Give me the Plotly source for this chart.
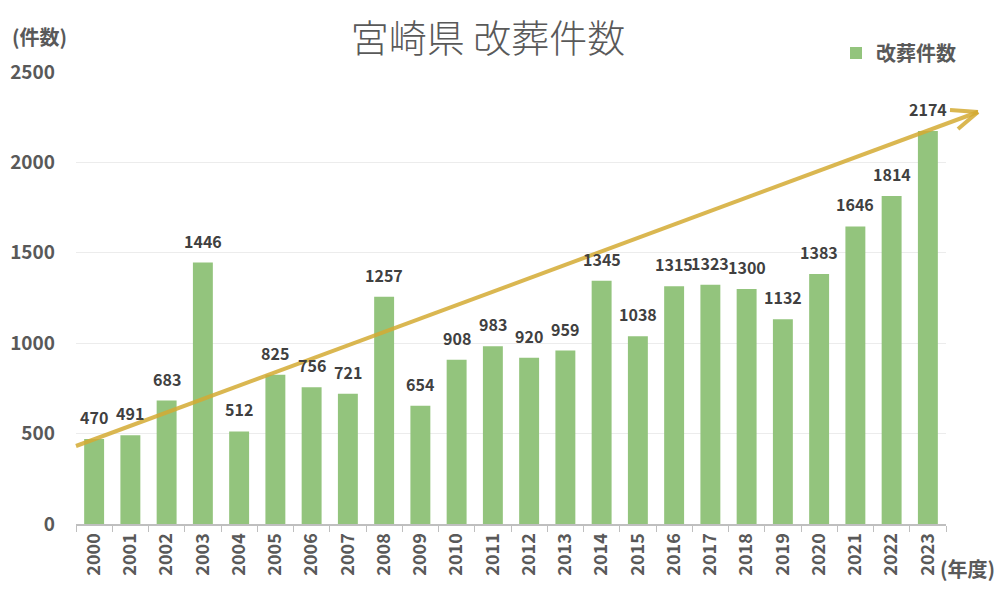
import plotly.graph_objects as go

years = [str(y) for y in range(2000, 2024)]
counts = [470, 491, 683, 1446, 512, 825, 756, 721, 1257, 654, 908, 983, 920, 959,
          1345, 1038, 1315, 1323, 1300, 1132, 1383, 1646, 1814, 2174]
y_ticks = [0, 500, 1000, 1500, 2000, 2500]

FONT = "Noto Sans CJK JP"
L, R, T, B = 76, 54, 72, 75
W, H = 1000, 599
PW, PH = W - L - R, H - T - B

def px2paper(x, y):
    return (x - L) / PW, (H - B - y) / PH

fig = go.Figure()
fig.add_trace(go.Bar(
    x=years, y=counts, name="改葬件数",
    marker=dict(color="#93c47d", line=dict(width=0)),
))

# data labels (x given as category index)
for i, c in enumerate(counts):
    fig.add_annotation(x=i, y=c, xref="x", yref="y", text=str(c), showarrow=False,
                       yanchor="bottom", yshift=8,
                       font=dict(family=FONT, size=16, color="#404040", weight="bold"))

# trend arrow (decorative)
arrow_col = "rgba(212,170,50,0.85)"
tail = px2paper(76, 446)
tip = px2paper(978, 112)
arm1 = px2paper(950, 110)
arm2 = px2paper(958, 129)
for a, b in [(tail, tip), (arm1, tip), (arm2, tip)]:
    fig.add_shape(type="line", xref="paper", yref="paper",
                  x0=a[0], y0=a[1], x1=b[0], y1=b[1],
                  line=dict(color=arrow_col, width=4))

fig.update_layout(
    width=W, height=H,
    margin=dict(l=L, r=R, t=T, b=B, autoexpand=False),
    plot_bgcolor="white", paper_bgcolor="white",
    bargap=0.45,
    showlegend=True,
    legend=dict(x=px2paper(836, 0)[0], y=px2paper(0, 53)[1], xanchor="left", yanchor="middle",
                font=dict(family=FONT, size=20, color="#595959", weight="bold"),
                itemwidth=30, bgcolor="rgba(0,0,0,0)"),
    title=dict(text="宮崎県 改葬件数", x=0.488, xanchor="center", y=0.935, yanchor="middle",
               font=dict(family=FONT, size=38, color="#595959", weight=300)),
    font=dict(family=FONT),
    xaxis=dict(type="category", categoryorder="array", categoryarray=years,
               range=[-0.5, len(years) - 0.5],
               tickangle=-90, tickson="boundaries", automargin=False,
               ticks="outside", ticklen=6, tickcolor="#bfbfbf",
               showline=True, linecolor="#bfbfbf", linewidth=2,
               tickfont=dict(family=FONT, size=18, color="#595959", weight="bold"),
               showgrid=False),
    yaxis=dict(range=[0, 2500], tickvals=y_ticks, showgrid=True, gridcolor="#ececec",
               gridwidth=1, zeroline=False, showline=False, ticks="", automargin=False,
               tickfont=dict(family=FONT, size=19, color="#595959", weight="bold"),
               ticklabelstandoff=20),
)

fig.add_annotation(text="(件数)", xref="paper", yref="paper",
                   x=px2paper(10, 0)[0], y=px2paper(0, 37)[1], xanchor="left", yanchor="middle",
                   showarrow=False, font=dict(family=FONT, size=20, color="#595959", weight="bold"))
fig.add_annotation(text="(年度)", xref="paper", yref="paper",
                   x=px2paper(938, 0)[0], y=px2paper(0, 568)[1], xanchor="left", yanchor="middle",
                   showarrow=False, font=dict(family=FONT, size=20, color="#595959", weight="bold"))

fig.write_html("out.html", config={"displayModeBar": False},
               post_script="document.body.style.margin='0';")
